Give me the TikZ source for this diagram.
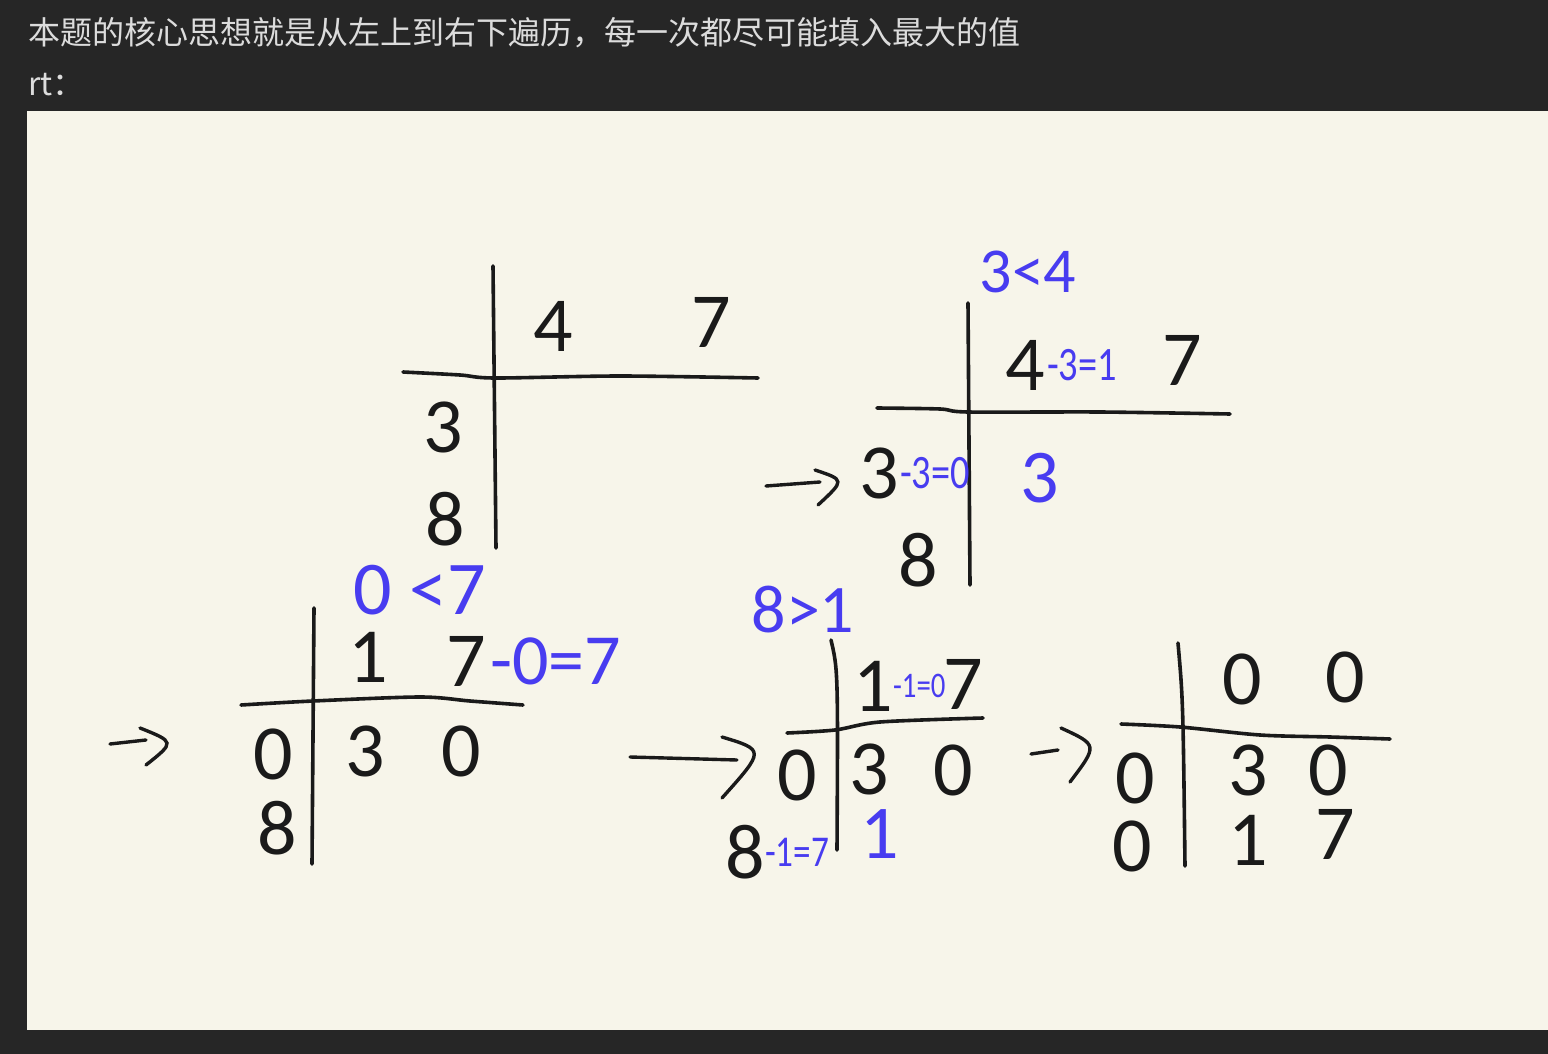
\documentclass[tikz,border=0pt]{standalone}
\usepackage{fontspec}
\usepackage{tikz}
\usetikzlibrary{positioning,calc}
\setmainfont{Liberation Sans}
\newfontfamily\cjkfont{Noto Sans CJK SC}
\newfontfamily\handfont{Carlito}
\newfontfamily\narrowhand{Carlito}[FakeStretch=0.8]
\definecolor{pagedark}{RGB}{38,38,38}
\definecolor{boardcream}{RGB}{247,245,234}
\definecolor{headgray}{RGB}{220,220,220}
\definecolor{inkblack}{RGB}{26,26,26}
\definecolor{penblue}{RGB}{72,60,240}

\begin{document}
\begin{tikzpicture}[x=1pt,y=-1pt,
  hline/.style={draw=inkblack,line width=3.6pt,line cap=round,line join=round},
  dig/.style={inner sep=0pt,text=inkblack,font=\fontsize{78}{78}\selectfont\handfont},
  bdig/.style={inner sep=0pt,text=penblue,font=\fontsize{#1}{#1}\selectfont\handfont},
  bdig/.default=70,
  sdig/.style={inner sep=0pt,text=penblue,font=\fontsize{#1}{#1}\selectfont\narrowhand},
  sdig/.default=48,
  hand/.style={draw=inkblack,line width=3.4pt,line cap=round},
  head/.style={font=\fontsize{32}{32}\selectfont\cjkfont,text=headgray,inner sep=0pt,anchor=west}
]
\useasboundingbox (0,0) rectangle (1548,1054);
\fill[pagedark] (0,0) rectangle (1548,1054);
\fill[boardcream] (27,111) rectangle (1548,1030);

% Titel
\node[head] (title) at (28,33) {本题的核心思想就是从左上到右下遍历，每一次都尽可能填入最大的值};
\node[head] (rt) at (28,85) {rt：};

% Tabelle 1
\draw[hline] (493,266) -- (496,548);
\draw[hline] plot[smooth] coordinates {(403,372) (460,375) (495,378) (620,376) (758,378)};
\node[dig] (t1c1) at (553,326) {4};
\node[dig] (t1c2) at (711,322) {7};
\node[dig] (t1r1) at (443,427) {3};
\node[dig] (t1r2) at (445,519) {8};

% Pfeil 1
\coordinate (p1a) at (766,486);
\coordinate (p1b) at (820,482);
\draw[hand] (p1a) -- (p1b);
\draw[hand] (815,470) .. controls (845,480) .. (818,505);

% Tabelle 2
\node[bdig=64] (t2cmp) at (1028,272) {3<4};
\draw[hline] (968,303) -- (970,585);
\draw[hline] plot[smooth] coordinates {(877,408) (940,409) (968,412) (1100,412) (1230,414)};
\node[dig] (t2c1) at (1025,365) {4};
\node[sdig,right=2pt of t2c1] (t2c1s) {-3=1};
\node[dig] (t2c2) at (1182,360) {7};
\node[dig] (t2r1) at (879,473) {3};
\node[sdig,right=1pt of t2r1] (t2r1s) {-3=0};
\node[bdig=76] (t2v) at (1040,478) {3};
\node[dig] (t2r2) at (918,560) {8};

% Pfeil 2
\coordinate (p2a) at (110,744);
\coordinate (p2b) at (146,740);
\draw[hand] (p2a) -- (p2b);
\draw[hand] (140,728) .. controls (175,742) .. (146,765);

% Tabelle 3
\node[bdig=76] (t3cmp) at (420,590) {0 <7};
\draw[hline] (314,608) -- (312,864);
\draw[hline] plot[smooth] coordinates {(241,705) (313,701) (420,697) (470,701) (523,705)};
\node[dig] (t3c1) at (368,657) {1};
\node[dig] (t3c2) at (466,661) {7};
\node[bdig=72,right=4pt of t3c2] (t3c2s) {-0=7};
\node[dig] (t3r1) at (273,754) {0};
\node[dig] (t3v1) at (365,751) {3};
\node[dig] (t3v2) at (461,751) {0};
\node[dig] (t3r2) at (277,828) {8};

% Pfeil 3
\coordinate (p3a) at (630,757);
\coordinate (p3b) at (737,760);
\draw[hand] (p3a) -- (p3b);
\draw[hand] (722,737) .. controls (765,750) .. (722,798);

% Tabelle 4
\node[bdig=68] (t4cmp) at (803,610) {8>1};
\draw[hline] (831,640) .. controls (838,670) .. (837,850);
\draw[hline] plot[smooth] coordinates {(787,733) (835,730) (880,722) (983,718)};
\node[dig] (t4c1) at (873,686) {1};
\node[sdig=36,right=0pt of t4c1] (t4c1s) {-1=0};
\node[dig] (t4c2) at (963,684) {7};
\node[dig] (t4r1) at (797,775) {0};
\node[dig] (t4v1) at (869,769) {3};
\node[dig] (t4v2) at (953,770) {0};
\node[dig] (t4r2) at (745,852) {8};
\node[sdig=44,right=0pt of t4r2] (t4r2s) {-1=7};
\node[bdig=76] (t4v3) at (880,834) {1};

% Pfeil 4
\coordinate (p4a) at (1031,754);
\coordinate (p4b) at (1058,750);
\draw[hand] (p4a) -- (p4b);
\draw[hand] (1061,728) .. controls (1098,745) .. (1070,782);

% Tabelle 5
\draw[hline] (1178,643) .. controls (1183,700) .. (1185,866);
\draw[hline] plot[smooth] coordinates {(1121,724) (1180,727) (1260,735) (1330,737) (1390,739)};
\node[dig] (t5c1) at (1242,679) {0};
\node[dig] (t5c2) at (1345,677) {0};
\node[dig] (t5r1) at (1135,778) {0};
\node[dig] (t5v1) at (1248,770) {3};
\node[dig] (t5v2) at (1328,770) {0};
\node[dig] (t5r2) at (1132,846) {0};
\node[dig] (t5v3) at (1248,840) {1};
\node[dig] (t5v4) at (1335,834) {7};
\end{tikzpicture}
\end{document}
